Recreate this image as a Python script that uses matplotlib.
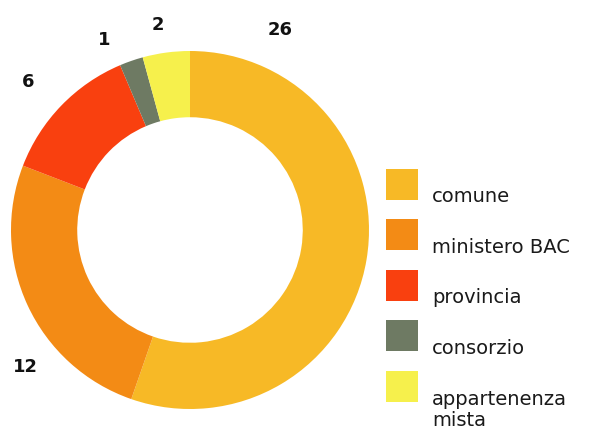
import matplotlib.pyplot as plt
from matplotlib.patches import Rectangle

# owner categories and number of sites per category
categories = ["comune", "ministero BAC", "provincia", "consorzio", "appartenenza\nmista"]
counts = [26, 12, 6, 1, 2]
colors = ["#F7B926", "#F38B15", "#F9400F", "#6E7A63", "#F6F04C"]

# where each count is written around the ring (data units, ring radius = 1)
label_pos = [(0.503, 1.123), (-0.922, -0.760), (-0.905, 0.832), (-0.480, 1.067), (-0.179, 1.151)]

W, H = 592, 431
fig = plt.figure(figsize=(W / 100, H / 100), dpi=100)

# ring, centre at (190, 231) px, outer radius 179 px
cx, cy, r = 190, 231, 179
ax = fig.add_axes([(cx - r) / W, (H - cy - r) / H, 2 * r / W, 2 * r / H])
ax.pie(counts, colors=colors, startangle=90, counterclock=False, radius=1,
       wedgeprops=dict(width=0.37, linewidth=0))
ax.set_xlim(-1, 1)
ax.set_ylim(-1, 1)
ax.set_aspect("equal")
ax.axis("off")

for n, (x, y) in zip(counts, label_pos):
    ax.text(x, y, str(n), ha="center", va="center", fontsize=13,
            fontweight="bold", color="#111111", clip_on=False)

# legend drawn by hand in pixel space
lax = fig.add_axes([0, 0, 1, 1])
lax.set_xlim(0, W)
lax.set_ylim(H, 0)
lax.axis("off")
lax.patch.set_alpha(0)

y0, step, sq = 185.5, 50.4, 31
line_h = 22
for i, (name, c) in enumerate(zip(categories, colors)):
    yc = y0 + i * step
    lax.add_patch(Rectangle((386, yc - sq / 2), 32, sq, facecolor=c, edgecolor="none"))
    extra = name.count("\n") * line_h
    lax.text(432, yc + 17 + extra, name, ha="left", va="baseline", fontsize=14,
             color="#1a1a1a", linespacing=1.13)

fig.savefig("out.png", dpi=100)
